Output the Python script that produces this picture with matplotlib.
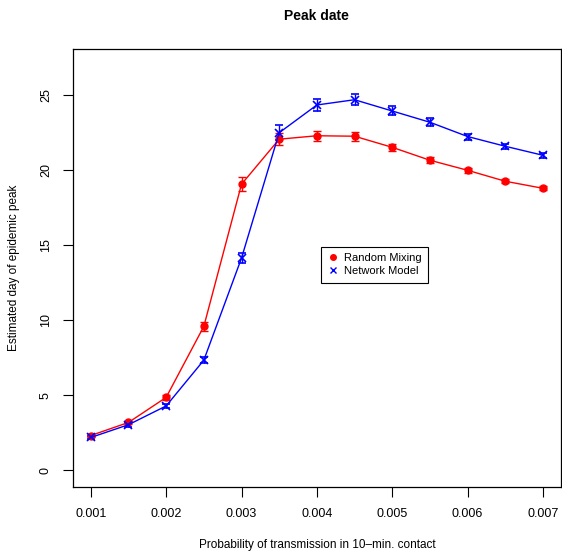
import matplotlib.pyplot as plt
from matplotlib.lines import Line2D

plt.rcParams['font.family'] = ['Liberation Sans', 'DejaVu Sans']

# transmission probabilities
prob = [0.001, 0.0015, 0.002, 0.0025, 0.003, 0.0035, 0.004,
        0.0045, 0.005, 0.0055, 0.006, 0.0065, 0.007]

# estimated day of peak
random_mixing = [2.33, 3.2, 4.87, 9.6, 19.07, 22.07, 22.3,
                 22.27, 21.53, 20.67, 20.0, 19.27, 18.8]
random_err = [0.12, 0.12, 0.15, 0.3, 0.45, 0.4, 0.33,
              0.3, 0.25, 0.2, 0.18, 0.15, 0.12]

network_model = [2.2, 3.05, 4.3, 7.35, 14.15, 22.5, 24.35,
                 24.7, 23.95, 23.2, 22.25, 21.6, 21.0]
network_err = [0.1, 0.12, 0.15, 0.2, 0.35, 0.5, 0.4,
               0.35, 0.3, 0.25, 0.2, 0.18, 0.15]

fig = plt.figure(figsize=(5.62, 5.53), dpi=100)
ax = fig.add_axes([0.1294, 0.1199, 0.9982 - 0.1294, 0.9114 - 0.1199])

ax.errorbar(prob, random_mixing, yerr=random_err, color='red', marker='o',
            markersize=5, lw=1, capsize=3, elinewidth=1, capthick=1)
ax.errorbar(prob, network_model, yerr=network_err, color='blue', marker='x',
            markersize=6, mew=1.2, lw=1, capsize=3, elinewidth=1, capthick=1)

ax.set_xlim(0.00076, 0.00724)
ax.set_ylim(-1.08, 28.08)
ax.set_xticks([0.001, 0.002, 0.003, 0.004, 0.005, 0.006, 0.007])
ax.set_xticklabels(['0.001', '0.002', '0.003', '0.004', '0.005', '0.006', '0.007'])
ax.set_yticks([0, 5, 10, 15, 20, 25])
ax.set_yticklabels(['0', '5', '10', '15', '20', '25'], rotation=90, va='center')
ax.tick_params(direction='out', length=7, width=0.8, labelsize=9, pad=8)
for s in ax.spines.values():
    s.set_linewidth(0.9)

ax.set_title('Peak date', fontsize=10, fontweight='bold', pad=21)
ax.set_xlabel('Probability of transmission in 10\u2013min. contact', fontsize=8.5, labelpad=14)
ax.set_ylabel('Estimated day of epidemic peak', fontsize=8.5, labelpad=14)

handles = [Line2D([], [], color='red', marker='o', ls='none', markersize=4),
           Line2D([], [], color='blue', marker='x', ls='none', markersize=5, mew=1)]
leg = ax.legend(handles, ['Random Mixing', 'Network Model'], loc='upper left',
                bbox_to_anchor=(0.498, 0.561), fontsize=8, fancybox=False,
                framealpha=1, edgecolor='black', handlelength=0.8,
                handletextpad=0.6, borderpad=0.6, labelspacing=0.25)
leg.get_frame().set_linewidth(0.8)

fig.savefig('out.png', dpi=100)
